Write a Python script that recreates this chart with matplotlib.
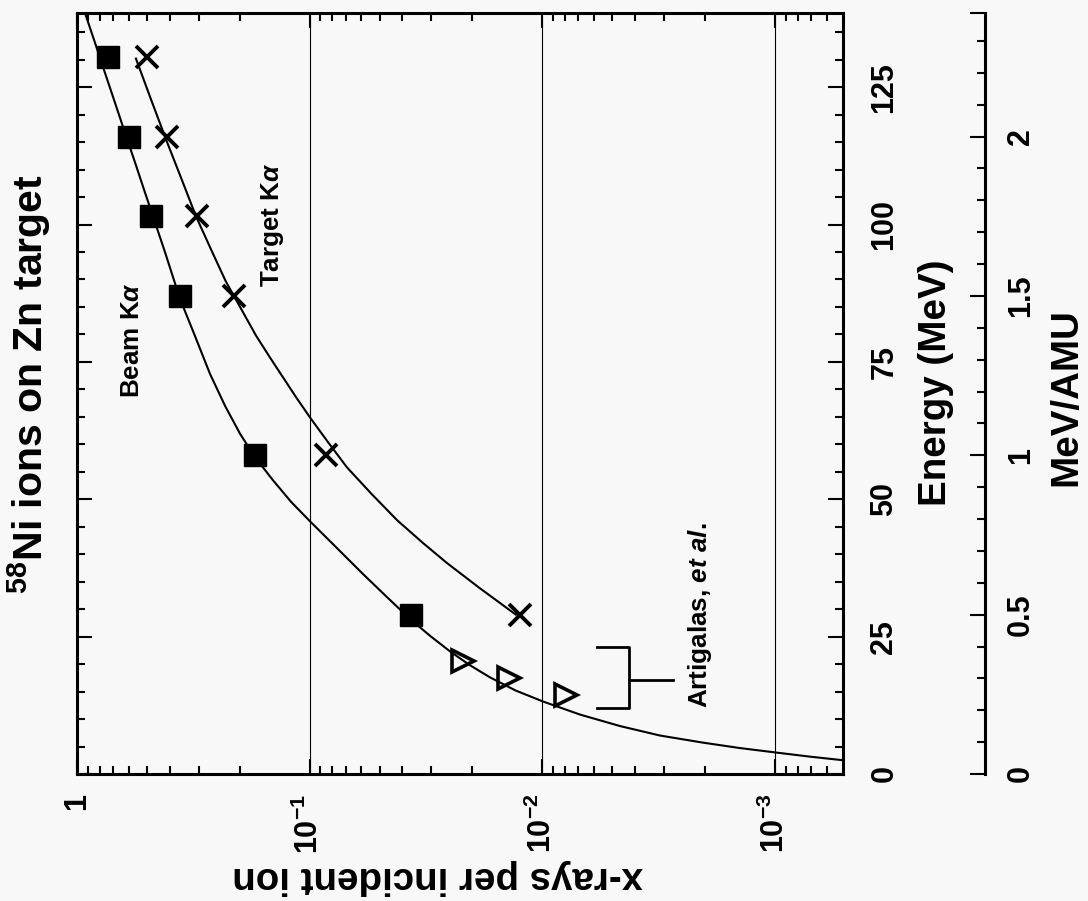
import matplotlib
matplotlib.use('Agg')
import matplotlib.pyplot as plt
from matplotlib.ticker import FixedLocator, FixedFormatter, MultipleLocator, LogLocator, NullFormatter

plt.rcParams['font.family'] = 'Liberation Sans'
plt.rcParams['font.weight'] = 'bold'
plt.rcParams['axes.labelweight'] = 'bold'
plt.rcParams['mathtext.fontset'] = 'custom'
plt.rcParams['mathtext.rm'] = 'Liberation Sans:bold'
plt.rcParams['mathtext.bf'] = 'Liberation Sans:bold'
plt.rcParams['mathtext.it'] = 'Liberation Sans:bold:italic'

AMU = 58.0  # 58Ni

# measured points (energy in MeV, x-rays per incident ion)
energy_beam = [130.5, 116, 101.5, 87, 58, 29]
beam_ka = [0.736, 0.595, 0.483, 0.361, 0.172, 0.0367]
energy_target = [130.5, 116, 101.5, 87, 58, 29]
target_ka = [0.502, 0.412, 0.306, 0.2115, 0.0853, 0.01248]
energy_artigalas = [20.5, 17.5, 14.4]
artigalas_ka = [0.0219, 0.0139, 0.00792]

# fitted curves
beam_fit_e = [140.5, 138.5, 133.1, 127.6, 122.2, 116.7, 111.3, 105.8, 100.4, 94.9,
              86.5, 79.7, 72.8, 67.0, 61.9, 57.7, 53.5, 49.5, 46.0, 41.3, 36.4,
              32.3, 28.25, 25.16, 22.3, 19.82, 17.6, 15.18, 13.2, 10.82, 8.73,
              7.0, 5.71, 4.73, 3.89, 3.16, 2.47]
beam_fit_v = [0.95, 0.924, 0.837, 0.758, 0.687, 0.622, 0.563, 0.510, 0.462, 0.418,
              0.361, 0.311, 0.268, 0.231, 0.199, 0.172, 0.144, 0.120, 0.0997, 0.0771, 0.0590,
              0.0468, 0.0371, 0.0304, 0.0249, 0.0205, 0.0168, 0.0130, 0.00994, 0.00689, 0.00464,
              0.00312, 0.00204, 0.00142, 0.000982, 0.000708, 0.000501]
target_fit_e = [130.2, 122.8, 115.5, 108.5, 101.5, 95.5, 89.6, 84.7, 79.8, 75.8, 72.2,
                68.6, 64.9, 60.4, 55.8, 50.9, 46.2, 42.2, 38.4, 33.8, 29.0]
target_fit_v = [0.558, 0.481, 0.4145, 0.357, 0.308, 0.2656, 0.229, 0.1973, 0.1701, 0.1481, 0.1302,
                0.1145, 0.0997, 0.0834, 0.0691, 0.0540, 0.0421, 0.0329, 0.0257, 0.01854, 0.01299]

x_ticks = [1, 1e-1, 1e-2, 1e-3]
x_ticklabels = ['1', r'$10^{-1}$', r'$10^{-2}$', r'$10^{-3}$']
amu_ticks = [0, 0.5, 1, 1.5, 2]
amu_ticklabels = ['0', '0.5', '1', '1.5', '2']

W, H = 1088, 901
bg = '#f8f8f8'
fig = plt.figure(figsize=(W / 100, H / 100), dpi=100, facecolor=bg)
ax = fig.add_axes([77 / W, 1 - 774 / H, 766 / W, 761 / H])
ax.set_facecolor(bg)

# the page is turned: energy runs up, x-ray yield runs right (decreasing)
ax.plot(beam_fit_v, beam_fit_e, color='black', lw=1.5, zorder=2)
ax.plot(target_fit_v, target_fit_e, color='black', lw=1.5, zorder=2)
ax.plot(beam_ka, energy_beam, ls='none', marker='s', ms=16.5, mfc='black', mec='black', mew=1, zorder=3)
ax.plot(target_ka, energy_target, ls='none', marker='x', ms=16, mec='black', mew=2.8, zorder=3)
ax.plot(artigalas_ka, energy_artigalas, ls='none', marker='>', ms=15.5, mfc='none', mec='black',
        mew=2.6, zorder=3)

ax.set_xscale('log')
ax.set_xlim(1, 5.1e-4)
ax.set_ylim(0, 138.5)

ax.xaxis.set_major_locator(FixedLocator(x_ticks))
ax.xaxis.set_major_formatter(FixedFormatter(x_ticklabels))
ax.xaxis.set_minor_locator(LogLocator(base=10, subs=range(2, 10), numticks=30))
ax.xaxis.set_minor_formatter(NullFormatter())
ax.yaxis.set_major_locator(MultipleLocator(25))
ax.yaxis.set_minor_locator(MultipleLocator(5))

ax.tick_params(axis='both', which='both', direction='in', top=True, bottom=True,
               left=True, right=True, width=1.5, colors='black')
ax.tick_params(which='major', length=11)
ax.tick_params(which='minor', length=5.5)
ax.tick_params(axis='x', labelsize=22, labelrotation=90, pad=14)
ax.tick_params(axis='y', labelleft=False, labelright=True, labelsize=22, labelrotation=90, pad=19)
for lbl in ax.get_yticklabels():
    lbl.set_va('center')
for s in ax.spines.values():
    s.set_linewidth(2.2)

ax.grid(True, axis='x', which='major', color='black', linewidth=0.8)
ax.set_axisbelow(True)

# MeV/AMU scale on a separate spine
sec = ax.secondary_yaxis((985 - 77) / 766, functions=(lambda e: e / AMU, lambda u: u * AMU))
top_amu = 138.5 / AMU
sec.yaxis.set_major_locator(FixedLocator(amu_ticks + [top_amu]))
sec.yaxis.set_major_formatter(FixedFormatter(amu_ticklabels + ['']))
sec.yaxis.set_minor_locator(MultipleLocator(0.1))
sec.tick_params(which='both', direction='in', width=1.5, labelsize=22, labelrotation=90, pad=15)
sec.tick_params(which='major', length=11)
sec.tick_params(which='minor', length=5.5)
for lbl in sec.get_yticklabels():
    lbl.set_va('center')
sec.spines['right'].set_linewidth(2.2)

# labels
ax.set_xlabel('x-rays per incident ion', fontsize=27.7, fontweight='bold', rotation=180,
              ha='center', va='center')
ax.xaxis.set_label_coords((438 - 77) / 766, (774 - 877) / 761)
ax.set_ylabel('Energy (MeV)', fontsize=27.7, fontweight='bold', rotation=90, ha='center', va='center')
ax.yaxis.set_label_position('right')
ax.yaxis.set_label_coords((918 - 77) / 766, (774 - 383) / 761)
ax.text((1066 - 77) / 766, (774 - 397) / 761, 'MeV/AMU', transform=ax.transAxes,
        fontsize=27.7, fontweight='bold', rotation=90, ha='center', va='center')
fig.text(29 / W, 1 - 384 / H, r'$^{58}$Ni ions on Zn target', fontsize=29.5,
         fontweight='bold', rotation=90, ha='center', va='center')

# curve annotations
ax.text(0.58, 79, r'Beam K$\alpha$', fontsize=18.7, rotation=90, ha='center', va='center')
ax.text(0.1438, 100, r'Target K$\alpha$', fontsize=18.7, rotation=90, ha='center', va='center')
ax.plot([0.00583, 0.004245, 0.004245, 0.00583], [23.1, 23.1, 12.0, 12.0], color='black', lw=2)
ax.plot([0.004245, 0.002746], [17.1, 17.1], color='black', lw=2)
ax.text(0.002103, 12.0, r'Artigalas, $\mathit{et\ al.}$', fontsize=18.7, rotation=90,
        ha='center', va='bottom')

fig.savefig('out.png', dpi=100, facecolor=bg)
